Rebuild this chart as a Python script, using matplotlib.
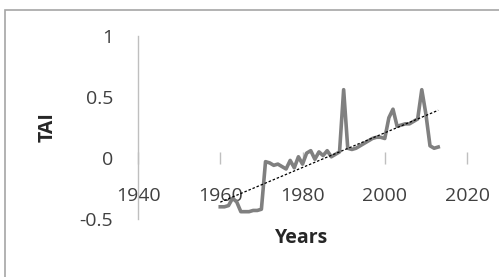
import numpy as np
import matplotlib
matplotlib.use("Agg")
import matplotlib.pyplot as plt
from matplotlib.patches import Rectangle

# TAI series
years = [1960, 1961, 1962, 1963, 1964, 1965, 1966, 1967, 1968, 1969,
         1970, 1971, 1972, 1973, 1974, 1975, 1976, 1977, 1978, 1979,
         1980, 1981, 1982, 1983, 1984, 1985, 1986, 1987, 1988, 1989,
         1990, 1991, 1992, 1993, 1994, 1995, 1996, 1997, 1998, 1999,
         2000, 2001, 2002, 2003, 2004, 2005, 2006, 2007, 2008, 2009,
         2010, 2011, 2012, 2013]
tai = [-0.40, -0.40, -0.39, -0.33, -0.36, -0.44, -0.44, -0.44, -0.43, -0.43,
       -0.42, -0.03, -0.04, -0.06, -0.05, -0.07, -0.09, -0.02, -0.08, 0.01,
       -0.05, 0.04, 0.06, -0.01, 0.05, 0.02, 0.06, 0.01, 0.03, 0.05,
       0.56, 0.08, 0.07, 0.08, 0.10, 0.12, 0.14, 0.16, 0.17, 0.17,
       0.16, 0.33, 0.40, 0.26, 0.27, 0.28, 0.28, 0.30, 0.32, 0.56,
       0.36, 0.10, 0.08, 0.09]

x_ticks = [1940, 1960, 1980, 2000, 2020]
y_ticks = [-0.5, 0, 0.5, 1]
y_tick_labels = ["-0.5", "0", "0.5", "1"]

plt.rcParams['font.family'] = ['Open Sans', 'DejaVu Sans']

fig = plt.figure(figsize=(4.99, 2.77), dpi=100)
ax = fig.add_axes([0.2766, 0.2094, 0.6593, 0.6606])

# chart frame
fig.patches.append(Rectangle((5 / 499, -0.2), 1.2, 1 - 10 / 277 + 0.2,
                             transform=fig.transFigure, fill=False,
                             edgecolor="#a6a6a6", linewidth=1.2))

ax.plot(years, tai, color="#808080", linewidth=2.6, solid_joinstyle="round")

# linear trend
coef = np.polyfit(years, tai, 1)
yr = np.array([years[0], years[-1]])
ax.plot(yr, np.polyval(coef, yr), color="black", linewidth=0.9, linestyle=(0, (2, 1.5)))

ax.set_xlim(1940, 2020)
ax.set_ylim(-0.5, 1)
ax.set_xticks(x_ticks)
ax.set_yticks(y_ticks)
ax.set_yticklabels(y_tick_labels)

for s in ["top", "right"]:
    ax.spines[s].set_visible(False)
ax.spines["left"].set_color("#bfbfbf")
ax.spines["left"].set_linewidth(1.0)
ax.spines["bottom"].set_position(("data", 0))
ax.spines["bottom"].set_visible(False)

ax.tick_params(axis="y", length=0, pad=18, labelsize=14, labelcolor="#404040")
ax.tick_params(axis="x", direction="inout", length=8, width=1, color="#bfbfbf",
               pad=17, labelsize=14, labelcolor="#404040")

fig.text(48 / 499, 1 - 127 / 277, "TAI", rotation=90, fontsize=14,
         fontweight="bold", ha="center", va="center", color="#262626")
fig.text(302 / 499, 1 - 238 / 277, "Years", fontsize=14,
         fontweight="bold", ha="center", va="center", color="#262626")

fig.savefig("out.png", dpi=100)
